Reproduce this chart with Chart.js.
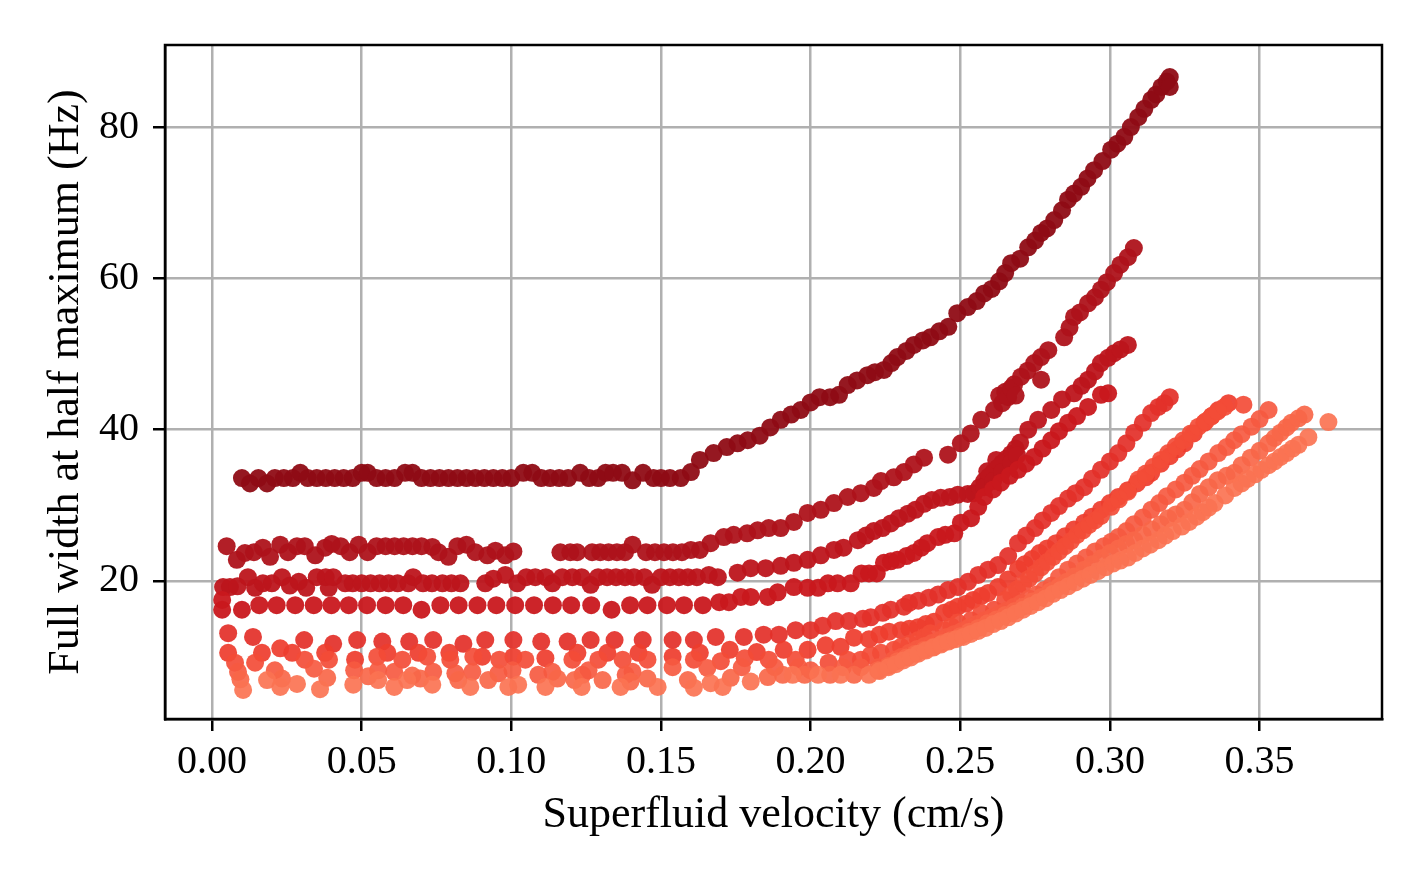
<!DOCTYPE html>
<html><head><meta charset="utf-8">
<script src="https://cdn.jsdelivr.net/npm/chart.js@4.4.0/dist/chart.umd.min.js"></script>
<style>html,body{margin:0;padding:0;background:#fff;overflow:hidden}canvas{display:block}</style>
</head><body>
<canvas id="c" width="1427" height="882"></canvas>
<script>
const xTickValues = [0.00, 0.05, 0.10, 0.15, 0.20, 0.25, 0.30, 0.35];
const yTickValues = [20, 40, 60, 80];

const series1 = [[0.010,33.6],[0.0127,32.9],[0.0155,33.6],[0.0184,32.9],[0.021,33.6],[0.024,33.6],[0.027,33.6],[0.0295,34.3],[0.032,33.6],[0.035,33.6],[0.038,33.6],[0.041,33.6],[0.044,33.6],[0.047,33.6],[0.050,34.3],[0.052,34.3],[0.055,33.6],[0.058,33.6],[0.061,33.6],[0.0645,34.3],[0.067,34.3],[0.070,33.6],[0.073,33.6],[0.076,33.6],[0.079,33.6],[0.082,33.6],[0.085,33.6],[0.088,33.6],[0.091,33.6],[0.094,33.6],[0.097,33.6],[0.100,33.6],[0.104,34.3],[0.107,34.3],[0.110,33.6],[0.113,33.6],[0.116,33.6],[0.119,33.6],[0.123,34.3],[0.126,33.6],[0.129,33.6],[0.1315,34.3],[0.134,34.3],[0.137,34.3],[0.1405,33.3],[0.144,34.3],[0.1475,33.6],[0.150,33.6],[0.153,33.6],[0.1566,33.6],
[0.160,34.4],[0.163,36.0],[0.1676,36.9],[0.172,37.7],[0.1756,38.2],[0.179,38.6],[0.183,39.2],[0.1865,40.3],[0.190,41.3],[0.1935,42.0],[0.1967,42.6],[0.200,43.6],[0.203,44.3],[0.2065,44.3],[0.2095,44.6],[0.2124,45.9],[0.2155,46.5],[0.219,47.2],[0.2215,47.6],[0.2245,47.9],[0.227,48.8],[0.229,49.6],[0.232,50.4],[0.2345,51.2],[0.2375,51.8],[0.240,52.2],[0.243,53.0],[0.246,53.6],[0.249,55.4],[0.2525,56.2],[0.2555,57.0],[0.258,58.0],[0.2605,58.6],[0.263,59.6],[0.265,60.7],[0.267,62.0],[0.270,62.6],[0.2727,64.1],[0.275,65.0],[0.277,66.0],[0.279,66.6],[0.2814,67.7],[0.284,69.0],[0.286,70.4],[0.288,71.2],[0.2904,72.1],[0.2925,73.2],[0.2947,74.3],[0.2975,75.5],[0.3004,77.0],[0.3025,77.8],[0.3048,78.7],[0.307,80.0],[0.3095,81.3],[0.3115,82.4],[0.3138,83.6],[0.3155,84.3],[0.3172,85.3],[0.319,86.0],[0.320,86.6],[0.320,85.3]];

const series2 = [[0.0049,24.6],[0.0083,22.8],[0.011,23.7],[0.014,23.8],[0.017,24.4],[0.0194,23.2],[0.0228,24.8],[0.0254,23.8],[0.0284,24.6],[0.031,24.6],[0.0345,23.4],[0.0378,24.4],[0.040,24.9],[0.043,24.6],[0.046,23.8],[0.049,24.8],[0.052,23.8],[0.055,24.6],[0.058,24.6],[0.061,24.6],[0.064,24.6],[0.067,24.6],[0.070,24.6],[0.0736,24.5],[0.0757,23.8],[0.079,23.2],[0.082,24.6],[0.085,24.8],[0.088,23.8],[0.092,23.4],[0.0947,24.0],[0.098,23.4],[0.1007,23.9],
[0.1164,23.8],[0.1197,23.8],[0.122,23.8],[0.127,23.8],[0.1297,23.8],[0.1325,23.8],[0.1353,23.8],[0.138,23.8],[0.1405,24.8],[0.145,23.8],[0.148,23.8],[0.151,23.8],[0.154,23.8],[0.157,23.8],[0.160,24.1],[0.163,24.1],
[0.1666,25.0],[0.171,25.8],[0.1743,26.1],[0.1788,26.3],[0.1823,26.7],[0.186,27.0],[0.190,27.0],[0.1944,27.8],[0.199,29.0],[0.2034,29.4],[0.2078,30.3],[0.2124,31.1],[0.2168,31.6],[0.2211,32.3],[0.2235,33.2],[0.2278,33.7],[0.2312,34.4],[0.2345,35.4],[0.2379,36.3],
[0.2459,36.7],[0.2502,38.2],[0.2535,39.5],[0.257,41.3],[0.2613,42.6],[0.263,44.5],[0.264,43.5],[0.265,45.0],[0.266,44.3],[0.267,45.5],[0.268,46.0],[0.2685,44.5],[0.2703,47.0],[0.2725,47.8],[0.2747,48.8],[0.277,46.6],[0.277,49.6],[0.2794,50.5],[0.2847,52.2],[0.2865,53.5],[0.288,54.9],[0.290,55.5],[0.2927,56.7],[0.295,57.5],[0.297,58.5],[0.299,59.5],[0.3014,60.7],[0.3035,61.8],[0.306,62.8],[0.308,64.0]];

const series3 = [[0.0037,19.2],[0.006,19.2],[0.0085,19.3],[0.012,20.5],[0.0144,19.1],[0.017,19.7],[0.020,19.7],[0.0234,20.5],[0.026,19.4],[0.029,19.9],[0.0315,19.1],[0.035,20.5],[0.038,20.5],[0.039,19.1],[0.0405,20.5],[0.0445,19.7],[0.047,19.7],[0.050,19.7],[0.053,19.7],[0.056,19.7],[0.059,19.7],[0.062,19.7],[0.0656,19.7],[0.0672,20.5],[0.0705,19.7],[0.0735,19.7],[0.077,19.7],[0.080,19.7],[0.083,19.7],
[0.0913,19.7],[0.094,20.3],[0.098,20.8],[0.102,19.7],[0.105,20.5],[0.108,20.5],[0.1115,20.5],[0.1137,19.7],[0.117,20.5],[0.1204,20.5],[0.1235,20.5],[0.1265,19.5],[0.129,20.5],[0.132,20.5],[0.135,20.5],[0.138,20.5],[0.141,20.5],[0.1445,20.5],[0.147,19.5],[0.150,20.5],[0.153,20.5],[0.156,20.5],[0.159,20.5],[0.162,20.5],[0.166,20.8],[0.169,20.5],
[0.1756,21.1],[0.180,21.7],[0.185,21.7],[0.190,22.0],[0.1944,22.4],[0.199,22.8],[0.2034,23.4],[0.2078,24.1],[0.211,24.4],[0.2158,25.4],[0.2185,26.0],[0.2211,26.6],[0.224,27.0],[0.2268,27.6],[0.2295,28.3],[0.2325,28.9],[0.235,29.4],[0.2379,30.2],[0.2405,30.7],[0.2435,31.0],[0.2465,31.1],[0.2492,31.4],[0.2525,31.5],[0.2546,31.6],[0.2565,32.4],[0.258,33.2],[0.2595,33.8],[0.261,34.4],[0.2625,35.0],[0.264,35.6],[0.2655,36.2],[0.267,36.8],[0.2685,37.5],[0.270,38.3],
[0.258,32.4],[0.259,34.5],[0.261,33.2],[0.262,36.0],[0.264,34.4],[0.267,35.6],[0.269,36.6],
[0.2727,40.0],[0.276,41.3],[0.2804,42.6],[0.284,44.0],[0.288,44.8],[0.2905,45.8],[0.2927,46.6],[0.295,47.7],[0.297,48.8],[0.2994,49.5],[0.3014,50.1],[0.3035,50.6],[0.306,51.2]];

const series4 = [[0.0034,17.5],[0.0034,16.2],[0.010,16.2],[0.0158,16.8],[0.0216,16.8],[0.0278,16.8],[0.034,16.8],[0.0399,16.8],[0.0457,16.8],[0.0518,16.8],[0.058,16.8],[0.0639,16.8],[0.070,16.2],[0.0763,16.8],[0.0824,16.8],[0.0887,16.8],[0.095,16.8],[0.1013,16.8],[0.1076,16.8],[0.1139,16.8],[0.120,16.8],[0.1267,16.8],[0.1335,16.2],[0.1397,16.8],[0.1455,16.8],[0.152,16.8],[0.1577,16.8],[0.164,16.8],
[0.1695,17.2],[0.1727,17.2],[0.1767,17.9],[0.180,17.9],[0.1857,17.9],[0.189,18.5],[0.1944,19.2],[0.199,19.1],[0.2025,19.1],[0.2058,19.7],[0.209,19.7],[0.2134,19.7],[0.217,21.0],[0.2195,21.0],[0.2221,21.0],[0.2245,22.4],[0.2268,22.6],[0.229,22.8],[0.232,23.3],[0.2345,23.7],[0.237,24.4],[0.239,25.0],[0.2426,25.8],[0.245,26.1],[0.248,26.3],[0.2502,27.7],[0.2536,28.3],[0.256,29.8],[0.258,31.1],[0.261,32.1],[0.2636,33.0],[0.2665,33.9],[0.2693,34.7],[0.272,35.5],[0.2747,36.4],[0.2775,37.5],[0.2804,38.6],[0.283,39.8],[0.286,40.9],[0.289,41.8],[0.2927,43.0],[0.297,44.6],[0.2994,44.8]];

const series5 = [[0.0054,13.1],[0.0137,12.6],[0.0308,12.2],[0.0405,11.7],[0.0485,12.2],[0.0569,12.0],[0.0659,12.0],[0.0739,12.2],[0.084,11.7],[0.0913,12.2],[0.1007,12.2],[0.110,12.0],[0.1188,12.0],[0.1265,12.2],[0.1345,12.2],[0.1439,12.2],[0.1539,12.2],[0.161,12.2],[0.1683,12.6],[0.1777,12.6],[0.1843,12.9],[0.1894,12.9],[0.195,13.5],[0.200,13.5],[0.204,14.1],[0.2084,14.7],[0.2128,14.7],[0.2175,15.0],[0.2201,15.2],[0.2241,15.8],[0.2268,16.2],[0.2312,16.6],[0.2329,17.1],[0.236,17.4],[0.2395,17.8],[0.2426,18.2],[0.2459,18.8],[0.2492,19.2],[0.2526,19.9],[0.256,20.8],[0.2593,21.5],[0.2626,22.1],[0.266,23.3],[0.2693,25.0],[0.272,26.0],[0.275,27.0],[0.2775,28.0],[0.2804,29.0],[0.283,29.9],[0.286,30.9],[0.2885,31.6],[0.2914,32.4],[0.294,33.5],[0.297,34.7],[0.300,35.8],[0.3028,36.9],[0.3055,38.2],[0.3081,39.6],[0.311,40.9],[0.3138,42.2],[0.3162,43.0],[0.3182,43.5],[0.320,44.3]];

const series6 = [[0.0054,10.5],[0.0167,10.5],[0.0228,11.1],[0.0268,10.5],[0.0378,10.5],[0.0478,9.6],[0.0586,10.5],[0.069,10.5],[0.0793,10.5],[0.0903,10.0],[0.1007,10.0],[0.1114,9.8],[0.1221,10.5],[0.1321,10.5],[0.1425,10.5],[0.1539,10.0],[0.163,10.5],[0.173,10.9],[0.182,10.6],[0.191,10.9],
[0.199,10.9],[0.205,11.5],[0.210,11.3],[0.2145,12.5],[0.2195,12.3],[0.223,12.9],[0.2262,13.3],[0.2302,13.5],[0.233,13.7],[0.2359,13.9],[0.2385,14.3],[0.2412,14.6],[0.2446,15.8],[0.247,16.2],[0.2492,16.6],[0.252,17.0],[0.2543,17.5],[0.257,18.0],[0.2593,18.4],[0.2626,19.2],[0.266,20.2],[0.2693,21.6],[0.2715,22.2],[0.274,22.9],[0.2765,23.7],[0.279,24.3],[0.282,25.0],[0.285,25.9],[0.288,26.8],[0.2914,27.7],[0.294,28.5],[0.297,29.4],[0.300,30.3],[0.3028,31.1],[0.306,32.0],[0.309,32.9],[0.312,33.7],[0.3138,34.3],[0.317,35.5],[0.320,36.5],[0.3225,37.4],[0.3249,38.2],[0.328,39.5],[0.3315,40.9],[0.334,41.8],[0.3362,42.6],[0.3396,43.5]];

const series7 = [[0.0077,9.2],[0.0144,9.2],[0.031,9.6],[0.0391,9.6],[0.0552,10.0],[0.0636,9.6],[0.0719,10.0],[0.0796,9.6],[0.0873,10.0],[0.096,9.6],[0.1047,9.6],[0.1204,9.6],[0.1291,9.6],[0.1372,9.6],[0.1455,9.6],[0.161,9.6],[0.170,9.4],[0.178,9.8],[0.186,9.6],[0.195,9.6],[0.206,9.2],
[0.2124,9.6],[0.2168,9.6],[0.220,10.2],[0.2235,10.5],[0.2278,10.9],[0.2302,11.3],[0.233,11.7],[0.2359,12.2],[0.238,12.6],[0.240,13.1],[0.2446,13.5],[0.247,14.0],[0.2492,14.5],[0.2536,14.8],[0.257,15.8],[0.2613,16.2],[0.265,17.5],[0.267,18.2],[0.269,18.9],[0.271,19.6],[0.273,20.3],[0.275,21.0],[0.277,21.8],[0.279,22.5],[0.281,23.2],[0.283,23.9],[0.285,24.6],[0.287,25.3],[0.289,26.1],[0.291,26.7],[0.293,27.4],[0.295,28.0],[0.297,28.6],[0.3004,29.8],[0.303,30.8],[0.306,31.8],[0.3095,33.4],[0.312,34.2],[0.3145,35.1],[0.317,36.0],[0.3195,36.9],[0.322,37.8],[0.3245,38.6],[0.327,39.5],[0.3296,40.4],[0.332,41.1],[0.334,41.8],[0.336,42.4],[0.3383,43.0],[0.3446,43.3]];

const series8 = [[0.0087,8.0],[0.021,8.2],[0.0341,8.4],[0.0475,8.2],[0.0555,8.2],[0.0609,8.0],[0.0739,8.0],[0.0813,7.8],[0.087,8.0],[0.0957,7.8],[0.1004,8.2],[0.109,7.6],[0.1137,8.0],[0.1238,7.6],[0.1258,8.2],[0.1382,7.6],[0.1405,8.0],[0.1539,8.6],[0.1655,8.5],[0.177,8.6],[0.188,8.6],[0.196,8.6],[0.200,8.2],
[0.2108,8.6],[0.2168,8.6],[0.2225,8.6],[0.2278,9.6],[0.2305,10.0],[0.233,10.5],[0.2355,11.0],[0.238,11.4],[0.2405,11.8],[0.243,12.2],[0.2455,12.6],[0.248,13.0],[0.2505,13.4],[0.253,13.9],[0.2555,14.3],[0.258,14.8],[0.2605,15.2],[0.263,15.7],[0.2655,16.1],[0.268,16.6],[0.2705,17.1],[0.273,17.7],[0.2755,18.2],[0.278,18.8],[0.2805,19.4],[0.283,20.5],[0.286,21.5],[0.289,22.3],[0.292,23.1],[0.295,23.9],[0.298,24.6],[0.3005,25.2],[0.3028,25.8],[0.3055,26.6],[0.308,27.5],[0.311,28.4],[0.3138,29.4],[0.3165,30.3],[0.319,31.2],[0.322,32.1],[0.3249,33.0],[0.3275,33.9],[0.330,34.8],[0.333,35.8],[0.3362,36.9],[0.339,37.7],[0.3415,38.6],[0.344,39.4],[0.3473,40.4],[0.350,41.4],[0.353,42.6]];

const series9 = [[0.0095,7.0],[0.0234,7.1],[0.0385,7.2],[0.0522,7.4],[0.0669,7.5],[0.0696,7.1],[0.0823,6.9],[0.0923,6.9],[0.1154,7.1],[0.1211,6.9],[0.1305,6.9],[0.1398,6.7],[0.1455,7.1],[0.159,6.9],[0.1733,7.2],[0.1857,7.3],[0.1907,7.6],[0.198,7.6],[0.2065,7.6],[0.2145,7.6],
[0.2225,8.2],[0.226,8.8],[0.229,9.4],[0.232,9.9],[0.235,10.4],[0.238,10.9],[0.241,11.3],[0.244,11.8],[0.247,12.2],[0.250,12.7],[0.253,13.3],[0.256,13.8],[0.259,14.4],[0.262,14.9],[0.265,15.5],[0.268,16.0],[0.271,16.6],[0.274,17.3],[0.277,17.9],[0.280,18.6],[0.283,19.3],[0.2855,19.9],[0.288,20.6],[0.2914,21.5],[0.294,22.2],[0.297,23.0],[0.300,23.7],[0.3028,24.3],[0.3055,24.9],[0.3081,25.4],[0.311,26.1],[0.314,26.8],[0.317,27.5],[0.3195,28.3],[0.322,28.8],[0.3249,29.4],[0.3275,30.4],[0.330,31.5],[0.333,32.4],[0.336,33.3],[0.339,33.9],[0.3416,34.3],[0.344,35.3],[0.347,36.3],[0.350,37.2],[0.353,38.2],[0.355,38.9],[0.357,39.6],[0.359,40.3],[0.3606,40.9],[0.363,41.5],[0.365,42.0]];

const series10 = [[0.0104,5.6],[0.0184,6.9],[0.0228,6.0],[0.0284,6.4],[0.0361,5.7],[0.0472,6.3],[0.0555,6.9],[0.0609,6.0],[0.0652,6.9],[0.0736,6.3],[0.0863,6.0],[0.099,6.0],[0.1023,6.3],[0.1114,6.0],[0.1235,6.0],[0.1365,6.0],[0.1489,6.0],[0.161,5.9],[0.1666,6.5],[0.1706,6.0],[0.180,6.7],[0.194,7.6],[0.2025,7.6],[0.210,7.6],
[0.2195,7.6],[0.223,8.1],[0.226,8.6],[0.2285,9.0],[0.231,9.5],[0.2335,9.9],[0.236,10.4],[0.2385,10.8],[0.241,11.2],[0.2435,11.6],[0.246,12.0],[0.2485,12.3],[0.251,12.6],[0.2535,13.0],[0.256,13.4],[0.2585,13.8],[0.261,14.3],[0.2635,14.7],[0.266,15.2],[0.2685,15.7],[0.271,16.2],[0.2735,16.7],[0.276,17.2],[0.2785,17.7],[0.281,18.3],[0.2835,18.8],[0.286,19.3],[0.2885,19.8],[0.291,20.3],[0.2935,20.8],[0.296,21.3],[0.2985,21.8],[0.301,22.3],[0.3035,22.7],[0.306,23.1],[0.3085,23.7],[0.311,24.3],[0.3135,24.8],[0.3162,25.4],[0.3185,26.0],[0.321,26.6],[0.324,27.2],[0.3265,27.8],[0.329,28.5],[0.331,29.1],[0.333,29.7],[0.335,30.3],[0.3385,31.3],[0.3416,32.3],[0.344,32.9],[0.346,33.5],[0.3485,34.1],[0.3506,34.7],[0.353,35.3],[0.355,35.8],[0.357,36.4],[0.359,36.9],[0.361,37.5],[0.363,38.0],[0.3663,39.0],[0.373,41.0]];

const allSeries = [series1, series2, series3, series4, series5, series6, series7, series8, series9, series10];
const seriesColors = ['rgba(143,12,21,0.95)','rgba(174,19,27,0.95)','rgba(189,21,28,0.95)','rgba(201,24,29,0.95)','rgba(227,48,42,0.93)','rgba(238,61,46,0.93)','rgba(243,76,55,0.92)','rgba(246,90,65,0.92)','rgba(249,103,73,0.92)','rgba(251,115,83,0.92)'];
const dotRadius = 9;

const datasets = allSeries.map((s, i) => ({
  label: 'Series ' + (i + 1),
  data: s.map(p => ({x: p[0], y: p[1]})),
  backgroundColor: seriesColors[i],
  borderColor: seriesColors[i],
  borderWidth: 0,
  pointRadius: dotRadius,
  pointHoverRadius: dotRadius,
  order: allSeries.length - i
}));

const framePlugin = {
  id: 'frame',
  afterDraw(chart) {
    const {ctx, chartArea: a} = chart;
    ctx.save();
    ctx.strokeStyle = '#000';
    ctx.lineWidth = 2.5;
    ctx.strokeRect(a.left, a.top, a.right - a.left, a.bottom - a.top);
    ctx.restore();
  }
};

const serif = 'Liberation Serif';
new Chart(document.getElementById('c'), {
  type: 'scatter',
  data: {datasets},
  options: {
    responsive: false,
    animation: false,
    devicePixelRatio: 1,
    elements: {point: {radius: dotRadius, hoverRadius: dotRadius, borderWidth: 0}},
    layout: {padding: {top: 45, right: 45, left: 0, bottom: 0}},
    plugins: {legend: {display: false}, tooltip: {enabled: false}},
    scales: {
      x: {
        type: 'linear', min: -0.0157, max: 0.3909,
        afterBuildTicks(s) { s.ticks = xTickValues.map(v => ({value: v})); },
        afterFit(s) { s.height = 163; },
        ticks: {callback: v => Number(v).toFixed(2), font: {family: serif, size: 40}, color: '#000', padding: 7, maxRotation: 0, autoSkip: false},
        grid: {color: '#b0b0b0', lineWidth: 2.5, tickColor: '#000', tickLength: 12, tickWidth: 2.5},
        border: {display: true, color: '#000', width: 2.5},
        title: {display: true, text: 'Superfluid velocity (cm/s)', font: {family: serif, size: 44}, color: '#000', padding: {top: 0, bottom: 40}}
      },
      y: {
        type: 'linear', min: 1.76, max: 90.84,
        afterBuildTicks(s) { s.ticks = yTickValues.map(v => ({value: v})); },
        afterFit(s) { s.width = 165; },
        ticks: {callback: v => String(v), font: {family: serif, size: 40}, color: '#000', padding: 14, autoSkip: false},
        grid: {color: '#b0b0b0', lineWidth: 2.5, tickColor: '#000', tickLength: 12, tickWidth: 2.5},
        border: {display: true, color: '#000', width: 2.5},
        title: {display: true, text: 'Full width at half maximum (Hz)', font: {family: serif, size: 44}, color: '#000', padding: {top: 40, bottom: 0}}
      }
    }
  },
  plugins: [framePlugin]
});
</script>
</body></html>
